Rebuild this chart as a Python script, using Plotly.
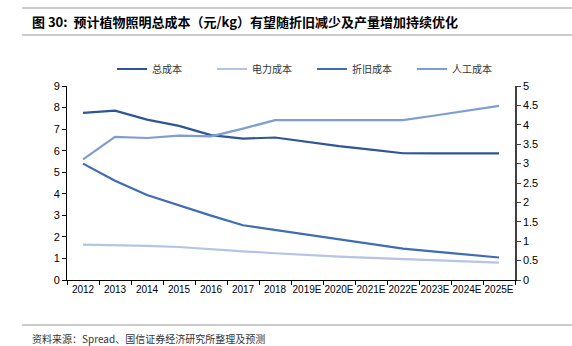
import plotly.graph_objects as go

categories = ["2012", "2013", "2014", "2015", "2016", "2017", "2018",
              "2019E", "2020E", "2021E", "2022E", "2023E", "2024E", "2025E"]
total_cost = [7.75, 7.86, 7.44, 7.15, 6.72, 6.56, 6.61, 6.41, 6.21, 6.05, 5.88, 5.87, 5.86, 5.87]
power_cost = [0.91, 0.90, 0.88, 0.85, 0.79, 0.74, 0.69, 0.64, 0.60, 0.57, 0.54, 0.51, 0.48, 0.45]
depr_cost = [3.00, 2.56, 2.19, 1.92, 1.66, 1.41, 1.29, 1.16, 1.05, 0.93, 0.81, 0.73, 0.66, 0.58]
labor_cost = [3.11, 3.69, 3.66, 3.72, 3.70, 3.90, 4.12, 4.12, 4.12, 4.12, 4.12, 4.24, 4.37, 4.49]

left_ticks = [0, 1, 2, 3, 4, 5, 6, 7, 8, 9]
right_ticks = [0, 0.5, 1, 1.5, 2, 2.5, 3, 3.5, 4, 4.5, 5]

CJK = "Noto Sans CJK SC"
NUM = "Liberation Sans, Arial"

W, H = 572, 346
L, R, T, B = 67, 57, 86, 66
PW, PH = W - L - R, H - T - B


def px(x):
    return (x - L) / PW


def py(y):
    return (H - B - y) / PH


fig = go.Figure()
fig.add_trace(go.Scatter(x=categories, y=total_cost, name="总成本", mode="lines",
                         line=dict(color="#2F5596", width=2.2), yaxis="y"))
fig.add_trace(go.Scatter(x=categories, y=power_cost, name="电力成本", mode="lines",
                         line=dict(color="#B3C4E4", width=2.2), yaxis="y2"))
fig.add_trace(go.Scatter(x=categories, y=depr_cost, name="折旧成本", mode="lines",
                         line=dict(color="#3F6CB3", width=2.2), yaxis="y2"))
fig.add_trace(go.Scatter(x=categories, y=labor_cost, name="人工成本", mode="lines",
                         line=dict(color="#7E9DD2", width=2.2), yaxis="y2"))

fig.update_layout(
    width=W, height=H,
    margin=dict(l=L, r=R, t=T, b=B),
    paper_bgcolor="white", plot_bgcolor="white",
    font=dict(family=NUM, size=11, color="#000000"),
    showlegend=True,
    legend=dict(orientation="h", x=px(112), xanchor="left", y=py(69), yanchor="middle",
                font=dict(family=CJK, size=10, color="#333333"),
                entrywidth=55, tracegroupgap=0, bgcolor="rgba(0,0,0,0)"),
    xaxis=dict(type="category", range=[-0.5, len(categories) - 0.5], showgrid=False,
               showline=True, linecolor="#000000", linewidth=1,
               ticks="outside", ticklen=4, tickcolor="#000000", tickson="boundaries",
               tickfont=dict(family=NUM, size=10, color="#000000"), tickangle=0),
    yaxis=dict(range=[0, 9], tickvals=left_ticks, showgrid=False, zeroline=False,
               showline=True, linecolor="#000000", linewidth=1, ticks="outside", ticklen=4,
               tickcolor="#000000", tickfont=dict(family=NUM, size=11, color="#000000")),
    yaxis2=dict(range=[0, 5], tickvals=right_ticks, overlaying="y", side="right", showgrid=False,
                zeroline=False, showline=True, linecolor="#404040", linewidth=1.5,
                ticks="outside", ticklen=4, tickcolor="#404040",
                tickfont=dict(family=NUM, size=11, color="#000000")),
)

# header and footer decorations
for yy in (8, 35, 325):
    fig.add_shape(type="line", xref="paper", yref="paper", x0=px(22), x1=px(572),
                  y0=py(yy), y1=py(yy), line=dict(color="#999999", width=1))

fig.add_annotation(text="<b>图 30:  预计植物照明总成本（元/kg）有望随折旧减少及产量增加持续优化</b>",
                   xref="paper", yref="paper", x=px(30), y=py(21),
                   xanchor="left", yanchor="middle", showarrow=False,
                   font=dict(family=CJK, size=13, color="#000000"))
fig.add_annotation(text="资料来源：Spread、国信证券经济研究所整理及预测",
                   xref="paper", yref="paper", x=px(30), y=py(338),
                   xanchor="left", yanchor="middle", showarrow=False,
                   font=dict(family=CJK, size=10, color="#333333"))

fig.write_html("out.html")
